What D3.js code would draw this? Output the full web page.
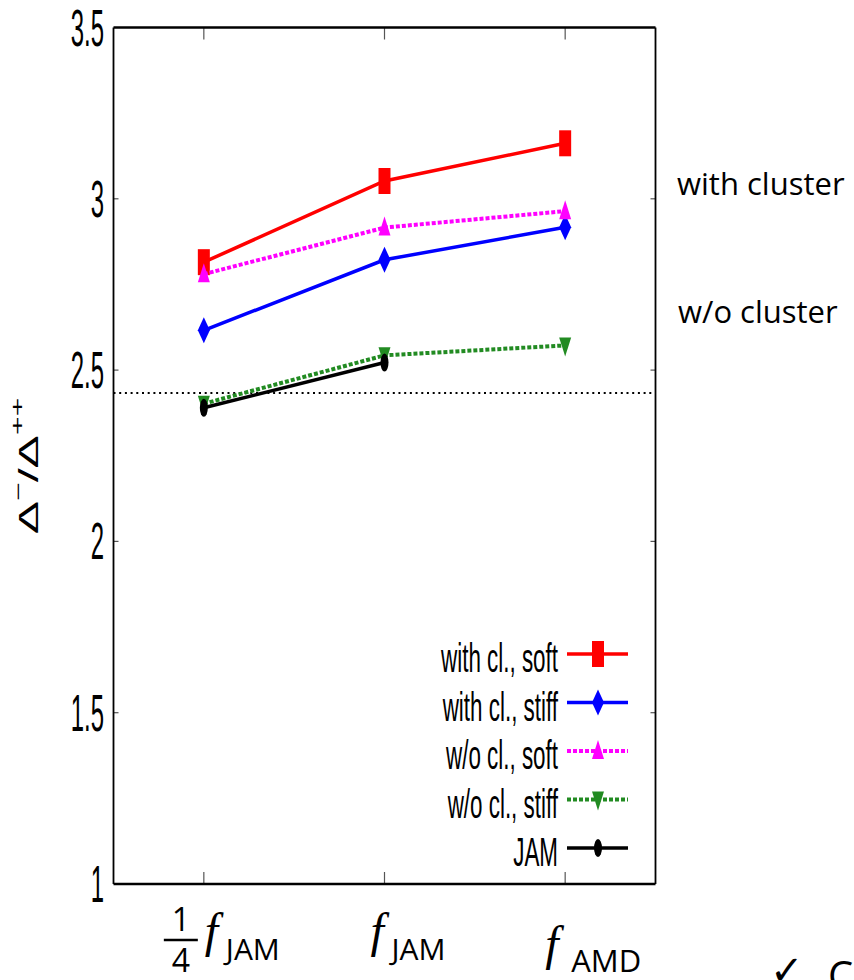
<!DOCTYPE html>
<html>
<head>
<meta charset="utf-8">
<script src="https://cdn.jsdelivr.net/npm/d3@7"></script>
<style>
  body { margin: 0; background: #fff; }
  svg { display: block; }
</style>
</head>
<body>
<div id="chart"></div>
<script>
// values
const categories = [0, 1, 2];   // 1/4 f_JAM, f_JAM, f_AMD
const yTicks = [1, 1.5, 2, 2.5, 3, 3.5];
const yTickLabels = ["1", "1.5", "2", "2.5", "3", "3.5"];
const withClSoft = [2.815, 3.052, 3.162];
const withClStiff = [2.616, 2.822, 2.917];
const woClSoft = [2.78, 2.916, 2.964];
const woClStiff = [2.402, 2.543, 2.572];
const jam = [2.39, 2.522];
const refLine = 2.433;
const seriesNames = ["with cl., soft", "with cl., stiff", "w/o cl., soft", "w/o cl., stiff", "JAM"];

const WIDTH = 854;
const HEIGHT = 980;

const svg = d3.select("#chart").append("svg")
    .attr("width", WIDTH)
    .attr("height", HEIGHT);

const x = d3.scaleLinear().domain([-0.5, 2.5]).range([113.5, 655.5]);
const y = d3.scaleLinear().domain([1, 3.5]).range([884, 27.5]);

// marker shapes (local coords, tall and narrow like the original)
const markers = {
    square: "M-6,-13h12v26h-12Z",
    diamond: "M0,-13L6,0L0,13L-6,0Z",
    triUp: "M0,-11L6,8L-6,8Z",
    triDown: "M0,11L6,-8L-6,-8Z",
    ellipse: "M-4,0a4,9 0 1,0 8,0a4,9 0 1,0 -8,0Z"
};

const series = [
    { name: seriesNames[0], values: withClSoft, color: "#ff0000", dash: null, marker: "square" },
    { name: seriesNames[1], values: withClStiff, color: "#0000ff", dash: null, marker: "diamond" },
    { name: seriesNames[2], values: woClSoft, color: "#ff00ff", dash: "4,2", marker: "triUp" },
    { name: seriesNames[3], values: woClStiff, color: "#228b22", dash: "4,2", marker: "triDown" },
    { name: seriesNames[4], values: jam, color: "#000000", dash: null, marker: "ellipse" }
];

const narrowFont = "Liberation Sans, Arial, sans-serif";

// ticks (inward, both sides)
const tickG = svg.append("g").attr("stroke", "#555").attr("stroke-width", 1.2);
yTicks.slice(1, -1).forEach(t => {
    tickG.append("line").attr("x1", x(-0.5)).attr("x2", x(-0.5) + 5).attr("y1", y(t)).attr("y2", y(t));
    tickG.append("line").attr("x1", x(2.5)).attr("x2", x(2.5) - 5).attr("y1", y(t)).attr("y2", y(t));
});
categories.forEach(c => {
    tickG.append("line").attr("x1", x(c)).attr("x2", x(c)).attr("y1", y(1)).attr("y2", y(1) - 12);
    tickG.append("line").attr("x1", x(c)).attr("x2", x(c)).attr("y1", y(3.5)).attr("y2", y(3.5) + 12);
});

// y tick labels, squeezed like the gnuplot output
svg.append("g").selectAll("text")
    .data(yTicks)
    .join("text")
    .attr("transform", d => `translate(104,${y(d) + 18}) scale(0.46,1)`)
    .attr("text-anchor", "end")
    .attr("font-family", narrowFont)
    .attr("font-size", 52)
    .text((d, i) => yTickLabels[i]);

// y axis title
const yTitle = svg.append("text")
    .attr("transform", "translate(38,466) scale(0.55,1) rotate(-90)")
    .attr("text-anchor", "middle")
    .attr("font-family", narrowFont)
    .attr("font-size", 50);
yTitle.append("tspan").text("\u0394");
yTitle.append("tspan").attr("font-size", 32).attr("dy", -26).text("\u2212");
yTitle.append("tspan").attr("dy", 26).text("/");
yTitle.append("tspan").text("\u0394");
yTitle.append("tspan").attr("font-size", 32).attr("dy", -26).text("++");

// horizontal dotted reference
svg.append("line")
    .attr("x1", x(-0.5)).attr("x2", x(2.5))
    .attr("y1", y(refLine)).attr("y2", y(refLine))
    .attr("stroke", "#000")
    .attr("stroke-width", 2)
    .attr("stroke-dasharray", "2,3.7");

// series lines + markers
const line = d3.line().x((d, i) => x(categories[i])).y(d => y(d));
series.forEach(s => {
    svg.append("path")
        .attr("d", line(s.values))
        .attr("fill", "none")
        .attr("stroke", s.color)
        .attr("stroke-width", s.dash ? 4 : 3.5)
        .attr("stroke-dasharray", s.dash);
    svg.append("g").selectAll("path")
        .data(s.values)
        .join("path")
        .attr("d", markers[s.marker])
        .attr("transform", (d, i) => `translate(${x(categories[i])},${y(d)})`)
        .attr("fill", s.color);
});

// legend
const legend = svg.append("g");
series.forEach((s, i) => {
    const cy = 654 + i * 48.5;
    legend.append("text")
        .attr("transform", `translate(558,${cy + 18}) scale(0.56,1)`)
        .attr("text-anchor", "end")
        .attr("font-family", narrowFont)
        .attr("font-size", 40)
        .text(s.name);
    legend.append("line")
        .attr("x1", 567).attr("x2", 628)
        .attr("y1", cy).attr("y2", cy)
        .attr("stroke", s.color)
        .attr("stroke-width", s.dash ? 4 : 3.5)
        .attr("stroke-dasharray", s.dash);
    legend.append("path")
        .attr("d", markers[s.marker])
        .attr("transform", `translate(598,${cy})`)
        .attr("fill", s.color);
});

// frame
const frame = svg.append("g").attr("stroke", "#000").attr("fill", "none");
frame.append("line").attr("x1", x(-0.5)).attr("x2", x(2.5)).attr("y1", y(3.5)).attr("y2", y(3.5)).attr("stroke-width", 2.6);
frame.append("line").attr("x1", x(-0.5)).attr("x2", x(2.5)).attr("y1", y(1)).attr("y2", y(1)).attr("stroke-width", 2.6);
frame.append("line").attr("x1", x(-0.5)).attr("x2", x(-0.5)).attr("y1", y(3.5)).attr("y2", y(1)).attr("stroke-width", 1.8);
frame.append("line").attr("x1", x(2.5)).attr("x2", x(2.5)).attr("y1", y(3.5)).attr("y2", y(1)).attr("stroke-width", 1.8);

// x category labels (f with subscripts)
const sansFont = "Open Sans, Noto Sans, sans-serif";
const mathFont = "Liberation Serif, DejaVu Serif, serif";

// 1/4 f_JAM
const fx0 = x(categories[0]);
svg.append("text").attr("x", fx0 - 23).attr("y", 931).attr("text-anchor", "middle")
    .attr("font-family", sansFont).attr("font-size", 32).text("1");
svg.append("line").attr("x1", fx0 - 40).attr("x2", fx0 - 6).attr("y1", 940).attr("y2", 940)
    .attr("stroke", "#000").attr("stroke-width", 2.4);
svg.append("text").attr("x", fx0 - 23).attr("y", 972).attr("text-anchor", "middle")
    .attr("font-family", sansFont).attr("font-size", 32).text("4");
svg.append("text").attr("x", fx0 + 1).attr("y", 947)
    .attr("font-family", mathFont).attr("font-style", "italic").attr("font-size", 48).text("f");
svg.append("text").attr("x", fx0 + 22).attr("y", 960)
    .attr("font-family", sansFont).attr("font-size", 30).text("JAM");

// f_JAM
const fx1 = x(categories[1]);
svg.append("text").attr("x", fx1 - 14).attr("y", 947)
    .attr("font-family", mathFont).attr("font-style", "italic").attr("font-size", 48).text("f");
svg.append("text").attr("x", fx1 + 7).attr("y", 960)
    .attr("font-family", sansFont).attr("font-size", 30).text("JAM");

// f_AMD
const fx2 = x(categories[2]);
svg.append("text").attr("x", fx2 - 20).attr("y", 960)
    .attr("font-family", mathFont).attr("font-style", "italic").attr("font-size", 48).text("f");
svg.append("text").attr("x", fx2 + 6).attr("y", 972)
    .attr("font-family", sansFont).attr("font-size", 31).text("AMD");

// side annotations
svg.append("text").attr("x", 677).attr("y", 195)
    .attr("font-family", sansFont).attr("font-size", 31).text("with cluster");
svg.append("text").attr("x", 678).attr("y", 323)
    .attr("font-family", sansFont).attr("font-size", 31).text("w/o cluster");
svg.append("text").attr("x", 770).attr("y", 984)
    .attr("font-family", "DejaVu Sans, sans-serif").attr("font-size", 40).text("\u2713");
svg.append("text").attr("x", 828).attr("y", 990)
    .attr("font-family", sansFont).attr("font-size", 40).text("C");
</script>
</body>
</html>
